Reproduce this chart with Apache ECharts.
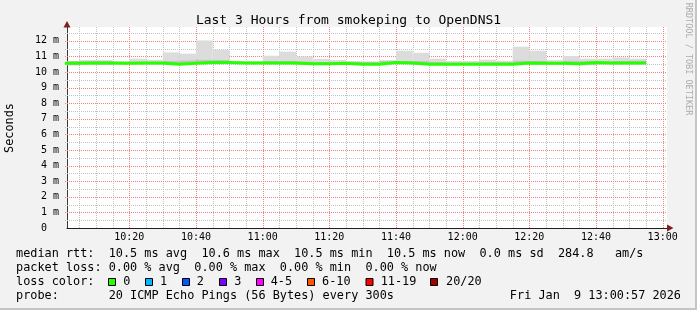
<!DOCTYPE html>
<html><head><meta charset="utf-8">
<script src="https://cdn.jsdelivr.net/npm/echarts@6/dist/echarts.min.js"></script>
<style>html,body{margin:0;padding:0;background:#f2f2f2}#c{width:697px;height:310px}</style>
</head><body><div id="c"></div>
<script>
// interval start times (minutes after 10:00), 5-minute steps
const intervalStart = [0,5,10,15,20,25,30,35,40,45,50,55,60,65,70,75,80,85,90,95,100,105,110,115,120,125,130,135,140,145,150,155,160,165,170];
const intervalMinutes = 5;
// smoke extents (ms)
const smokeMin   = [10.42,10.48,10.45,10.48,10.48,10.48,10.46,10.48,10.50,10.50,10.50,10.50,10.50,10.50,10.47,10.47,10.48,10.46,10.46,10.50,10.50,10.46,10.46,10.46,10.46,10.46,10.46,10.50,10.48,10.48,10.47,10.43,10.48,10.48,10.48];
const smokeInner = [10.70,10.72,10.72,10.65,10.68,10.66,10.72,10.75,10.80,10.78,10.65,10.65,10.70,10.72,10.68,10.66,10.66,10.64,10.64,10.70,10.72,10.70,10.66,10.62,10.62,10.66,10.64,10.74,10.70,10.66,10.74,10.72,10.66,10.72,10.74];
const smokeMax   = [10.70,10.76,10.76,10.67,10.85,10.78,11.25,11.17,12.02,11.42,10.70,10.70,11.04,11.30,10.99,10.84,10.77,10.70,10.68,10.76,11.36,11.23,10.85,10.70,10.70,10.78,10.72,11.62,11.36,10.76,11.02,10.85,10.85,10.93,10.85];
const medianRtt  = [10.56,10.57,10.57,10.55,10.57,10.57,10.50,10.55,10.60,10.60,10.58,10.58,10.58,10.58,10.52,10.52,10.55,10.50,10.50,10.60,10.57,10.50,10.50,10.50,10.50,10.50,10.50,10.58,10.55,10.55,10.53,10.60,10.57,10.57,10.57];
// axis ticks / grid
const xTickLabels = [20,40,60,80,100,120,140,160,180];
const xMinorTicks = [5,10,15,25,30,35,45,50,55,65,70,75,85,90,95,105,110,115,125,130,135,145,150,155,165,170,175];
const yTickLabels = [0,1,2,3,4,5,6,7,8,9,10,11,12];
const yMajorTicks = [1,2,3,4,5,6,7,8,9,10,11,12];
const yMinorTicks = [0.5,1.5,2.5,3.5,4.5,5.5,6.5,7.5,8.5,9.5,10.5,11.5,12.5];

const FONT = '"DejaVu Sans Mono", monospace';
const RED = '#ee8080', GREY = '#c2c2c2';
const X_MIN = 1.3, X_MAX = 181.3, Y_MIN = 0, Y_MAX = 12.88;

const smokeData = intervalStart.map((t,i)=>[t, t+intervalMinutes, smokeMin[i], smokeInner[i], smokeMax[i]]);
const medianPts = intervalStart.map((t,i)=>[t, medianRtt[i]]);
medianPts.push([intervalStart[intervalStart.length-1]+intervalMinutes, medianRtt[medianRtt.length-1]]);

function hhmm(v){const h=10+Math.floor(v/60), m=v%60; return (h<10?'0':'')+h+':'+(m<10?'0':'')+m;}

function gridRenderer(vertical, color){
  return function(params, api){
    const v = api.value(0), cs = params.coordSys;
    let shape;
    if (vertical) {
      const x = Math.round(api.coord([v, Y_MIN])[0]) + 0.5;
      shape = {x1:x, y1:cs.y, x2:x, y2:cs.y+cs.height};
    } else {
      const y = Math.round(api.coord([X_MIN, v])[1]) + 0.5;
      shape = {x1:cs.x - 2, y1:y, x2:cs.x+cs.width, y2:y};
    }
    return {type:'line', shape, style:{stroke:color, fill:null, lineWidth:1, lineDash:[1,1]}};
  };
}
function gridSeries(name, values, vertical, color){
  return {name, type:'custom', renderItem:gridRenderer(vertical, color), z:1, silent:true, clip:false,
    encode: vertical ? {x:0} : {y:0}, data: values.map(v=>[v])};
}

function renderSmoke(params, api){
  const x0 = api.value(0), x1 = api.value(1);
  const lo = api.coord([x0, api.value(2)]), mid = api.coord([x1, api.value(3)]), hi = api.coord([x1, api.value(4)]);
  const cs = params.coordSys;
  const clip = r => echarts.graphic.clipRectByRect(r, {x:cs.x, y:cs.y, width:cs.width, height:cs.height});
  const dark = clip({x:lo[0], y:mid[1], width:mid[0]-lo[0], height:lo[1]-mid[1]});
  const light = clip({x:lo[0], y:hi[1], width:hi[0]-lo[0], height:mid[1]-hi[1]});
  const children = [];
  if (light) children.push({type:'rect', shape:light, style:{fill:'#dcdcdc'}});
  if (dark) children.push({type:'rect', shape:dark, style:{fill:'#c3c3c3'}});
  return {type:'group', children};
}

const chart = echarts.init(document.getElementById('c'), null, {renderer:'canvas'});
const lossColors = [['0','#26ff00',108.5,123.3],['1','#00b8ff',145.5,160],['2','#0059ff',182.5,196.7],['3','#7e00ff',219.5,234.3],['4-5','#ff00ff',256.5,270.7],['6-10','#ff5500',307.5,322],['11-19','#ff0000',366,380.7],['20/20','#a10000',430.5,446]];
const txt = (text,x,y,extra)=>({type:'text',x:x,y:y,silent:true,style:Object.assign({text:text,font:'11.85px '+FONT,fill:'#000',verticalAlign:'middle'},extra||{})});
const graphics = [
  {type:'rect',shape:{x:0,y:308,width:697,height:2},style:{fill:'#c4c4c4'},silent:true},
  {type:'rect',shape:{x:695,y:0,width:2,height:310},style:{fill:'#c4c4c4'},silent:true},
  {type:'polygon',shape:{points:[[63.5,27.5],[70.5,27.5],[67,21]]},style:{fill:'#801f1f'},silent:true,z:10},
  {type:'polygon',shape:{points:[[667,224.5],[667,231.5],[673.5,228]]},style:{fill:'#801f1f'},silent:true,z:10},
  {type:'text',x:10,y:128,rotation:Math.PI/2,silent:true,style:{text:'Seconds',font:'11.85px '+FONT,fill:'#000',align:'center',verticalAlign:'middle'}},
  {type:'text',x:688,y:59,rotation:-Math.PI/2,silent:true,style:{text:'RRDTOOL / TOBI OETIKER',font:'8.5px '+FONT,fill:'#acacac',align:'center',verticalAlign:'middle'}},
  txt('median rtt:  10.5 ms avg  10.6 ms max  10.5 ms min  10.5 ms now  0.0 ms sd  284.8   am/s',16,254),
  txt('packet loss: 0.00 % avg  0.00 % max  0.00 % min  0.00 % now',16,268),
  txt('loss color:',16,282),
  txt('probe:       20 ICMP Echo Pings (56 Bytes) every 300s',16,296),
  txt('Fri Jan  9 13:00:57 2026',681,296,{align:'right'})
];
lossColors.forEach(l=>{
  graphics.push({type:'rect',shape:{x:l[2],y:278.5,width:7,height:7},style:{fill:l[1],stroke:'#000',lineWidth:1},silent:true});
  graphics.push(txt(l[0],l[3],282));
});

chart.setOption({
  animation:false,
  backgroundColor:'#f2f2f2',
  title:{text:'Last 3 Hours from smokeping to OpenDNS1',left:'center',top:9,textStyle:{fontFamily:FONT,fontSize:13,fontWeight:'normal',color:'#000'}},
  grid:{left:67,right:30,top:27,bottom:82,show:true,backgroundColor:'#fff',borderWidth:0},
  xAxis:{type:'value',min:X_MIN,max:X_MAX,
    axisLine:{show:true,onZero:false,lineStyle:{color:'#1f1f1f',width:1}},
    axisTick:{show:false},splitLine:{show:false},
    axisLabel:{customValues:xTickLabels,formatter:hhmm,fontFamily:FONT,fontSize:10,color:'#000',margin:4}},
  yAxis:{type:'value',min:Y_MIN,max:Y_MAX,
    axisLine:{show:true,lineStyle:{color:'#3a3a3a',width:1}},
    axisTick:{show:false},splitLine:{show:false},
    axisLabel:{customValues:yTickLabels,formatter:v=>v===0?'0  ':(v+' m'),fontFamily:FONT,fontSize:10,color:'#000',margin:8}},
  graphic:graphics,
  series:[
    gridSeries('xMinor', xMinorTicks, true, GREY),
    gridSeries('yMinor', yMinorTicks, false, GREY),
    gridSeries('xMajor', xTickLabels, true, RED),
    gridSeries('yMajor', yMajorTicks, false, RED),
    {name:'smoke',type:'custom',renderItem:renderSmoke,z:2,silent:true,
      encode:{x:[0,1],y:[2,3,4]},data:smokeData},
    {name:'median',type:'line',step:'end',symbol:'none',z:3,silent:true,
      lineStyle:{color:'#26ff00',width:3},data:medianPts}
  ]
});
</script></body></html>
